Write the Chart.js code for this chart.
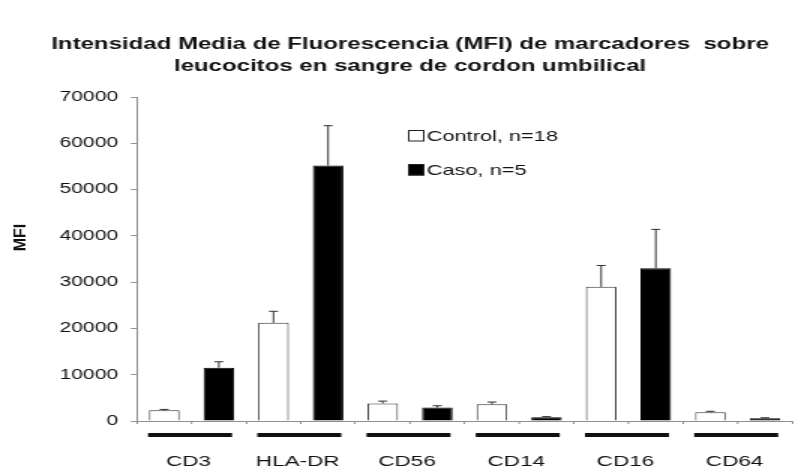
<!DOCTYPE html>
<html>
<head>
<meta charset="utf-8">
<script src="https://cdn.jsdelivr.net/npm/chart.js@4.4.1/dist/chart.umd.min.js"></script>
<style>
  html, body { margin: 0; padding: 0; background: #fff; overflow: hidden; }
</style>
</head>
<body>
<!-- the reference is stretched horizontally, so the canvas is drawn narrow and scaled up 1.5x -->
<canvas id="mfiChart" width="540" height="470" style="width:810px;height:470px;display:block"></canvas>
<script>
const markers = ['CD3', 'HLA-DR', 'CD56', 'CD14', 'CD16', 'CD64'];

const controlMean = [2300, 21200, 3800, 3600, 29000, 1900];
const controlErr = [200, 2500, 500, 500, 4600, 200];

const casoMean = [11500, 55200, 2900, 800, 33000, 600];
const casoErr = [1300, 8600, 400, 150, 8400, 100];

const yMin = 0;
const yMax = 70000;
const yStep = 10000;

const titleLines = [
  'Intensidad Media de Fluorescencia (MFI) de marcadores  sobre',
  'leucocitos en sangre de cordon umbilical'
];
const yTitle = 'MFI';

const FONT = "'Liberation Sans', Arial, sans-serif";
const TEXT = '#111';
const AXIS = '#8f8f8f';

const errors = [controlErr, casoErr];

// error bars (upward only), drawn from the bar elements and the y scale
const errorBars = {
  id: 'errorBars',
  afterDatasetsDraw(chart) {
    const ctx = chart.ctx;
    const y = chart.scales.y;
    ctx.save();
    ctx.strokeStyle = '#333';
    ctx.lineWidth = 1;
    chart.data.datasets.forEach((ds, i) => {
      chart.getDatasetMeta(i).data.forEach((bar, j) => {
        const top = y.getPixelForValue(ds.data[j] + errors[i][j]);
        ctx.beginPath();
        ctx.moveTo(bar.x, bar.y);
        ctx.lineTo(bar.x, top);
        ctx.moveTo(bar.x - 3, top);
        ctx.lineTo(bar.x + 3, top);
        ctx.stroke();
      });
    });
    ctx.restore();
  }
};

// middle tick marks, the thick line under each marker name, and the y title
const groupLines = {
  id: 'groupLines',
  afterDraw(chart) {
    const ctx = chart.ctx;
    const x = chart.scales.x;
    const bottom = chart.chartArea.bottom;
    ctx.save();
    markers.forEach((m, i) => {
      const cx = x.getPixelForValue(i);
      ctx.strokeStyle = AXIS;
      ctx.lineWidth = 1;
      ctx.beginPath();
      ctx.moveTo(cx, bottom);
      ctx.lineTo(cx, bottom + 3);
      ctx.stroke();

      ctx.strokeStyle = TEXT;
      ctx.lineWidth = 4;
      ctx.beginPath();
      ctx.moveTo(cx - 29, 435);
      ctx.lineTo(cx + 27, 435);
      ctx.stroke();
    });

    // rotated axis title, squeezed to undo the horizontal stretch
    ctx.translate(14, 237.5);
    ctx.rotate(-Math.PI / 2);
    ctx.scale(1, 0.72);
    ctx.font = 'bold 16px ' + FONT;
    ctx.fillStyle = TEXT;
    ctx.textAlign = 'center';
    ctx.textBaseline = 'middle';
    ctx.fillText(yTitle, 0, 0);
    ctx.restore();
  }
};

// legend inside the plot area
const boxLegend = {
  id: 'boxLegend',
  afterDraw(chart) {
    const ctx = chart.ctx;
    ctx.save();
    ctx.font = '14.5px ' + FONT;
    ctx.textBaseline = 'middle';
    chart.data.datasets.forEach((ds, i) => {
      const top = 130 + i * 34;
      ctx.fillStyle = ds.backgroundColor;
      ctx.fillRect(272, top, 11, 11.5);
      ctx.strokeStyle = '#222';
      ctx.lineWidth = 1;
      ctx.strokeRect(272.5, top + 0.5, 10, 10.5);
      ctx.fillStyle = TEXT;
      ctx.fillText(ds.label, 284.5, top + 6.5);
    });
    ctx.restore();
  }
};

const ctx = document.getElementById('mfiChart').getContext('2d');
const mfiChart = new Chart(ctx, {
  type: 'bar',
  data: {
    labels: markers,
    datasets: [
      {
        label: 'Control, n=18',
        data: controlMean,
        backgroundColor: '#ffffff',
        borderColor: '#333',
        borderWidth: 1,
        categoryPercentage: 1,
        barPercentage: 0.56
      },
      {
        label: 'Caso, n=5',
        data: casoMean,
        backgroundColor: '#000000',
        borderColor: '#000',
        borderWidth: 1,
        categoryPercentage: 1,
        barPercentage: 0.56
      }
    ]
  },
  options: {
    responsive: false,
    devicePixelRatio: 1,
    animation: false,
    layout: { padding: { left: 10.7, right: 4, top: 0, bottom: 0 } },
    plugins: {
      legend: { display: false },
      tooltip: { enabled: false },
      title: {
        display: true,
        text: titleLines,
        color: TEXT,
        font: { family: FONT, size: 16, weight: 'bold', lineHeight: 1.375 },
        padding: { top: 34, bottom: 19 }
      }
    },
    scales: {
      x: {
        offset: true,
        grid: {
          offset: true,
          drawOnChartArea: false,
          drawTicks: true,
          tickLength: 3,
          color: AXIS
        },
        border: { display: true, color: AXIS, width: 1 },
        ticks: {
          color: TEXT,
          font: { family: FONT, size: 15 },
          padding: 28.7,
          labelOffset: -2,
          maxRotation: 0,
          autoSkip: false
        },
        afterFit(scale) { scale.height = 49; }
      },
      y: {
        min: yMin,
        max: yMax,
        grid: {
          drawOnChartArea: false,
          drawTicks: true,
          tickLength: 4,
          color: AXIS
        },
        border: { display: true, color: AXIS, width: 1 },
        ticks: {
          stepSize: yStep,
          color: TEXT,
          font: { family: FONT, size: 14 },
          padding: 8.6,
          callback: v => String(v)
        },
        afterFit(scale) { scale.width = 80.6; }
      }
    }
  },
  plugins: [errorBars, groupLines, boxLegend]
});
</script>
</body>
</html>
